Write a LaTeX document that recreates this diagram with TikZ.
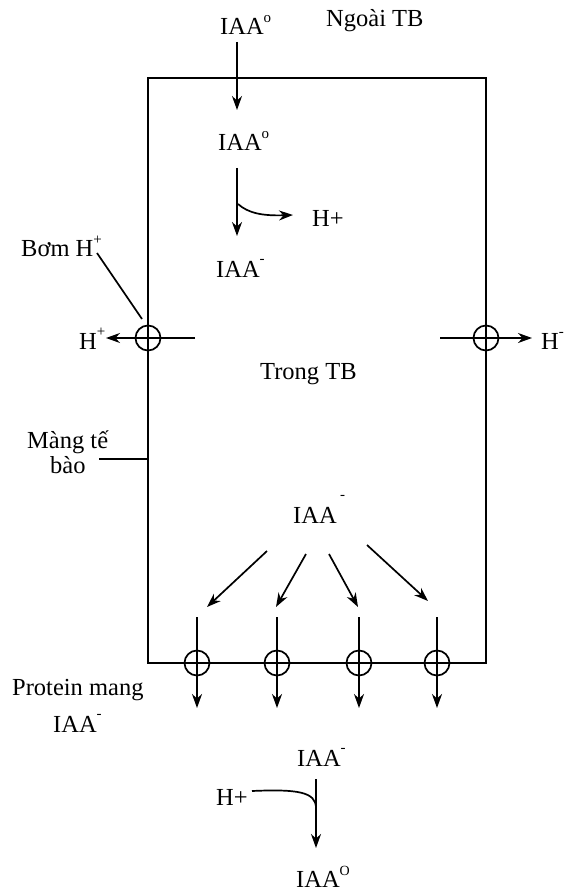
\documentclass[tikz,border=0pt]{standalone}
\usepackage{fontspec}
\setmainfont{Liberation Serif}
\usetikzlibrary{arrows.meta}
\newcommand\supx[2]{\raisebox{#1}{\fontsize{15}{15}\selectfont #2}}
\begin{document}
\begin{tikzpicture}[x=1pt,y=-1pt,
  lbl/.style={anchor=base west, inner sep=0pt, font=\fontsize{24.5}{28}\selectfont},
  sup/.style={anchor=base west, inner sep=0pt, font=\fontsize{15}{15}\selectfont},
  pore/.style={circle, draw, line width=1.7pt, minimum size=25pt, inner sep=0pt},
  ln/.style={line width=1.7pt},
  arr/.style={line width=1.7pt, -{Stealth[length=14pt,width=10pt,inset=4.5pt]}}]
\useasboundingbox (0,0) rectangle (565,893);

% cell membrane
\coordinate (nw) at (148,78);
\coordinate (se) at (486,663);
\draw[ln] (nw) rectangle (se);

% texts
\node[lbl] (ngoai) at (326,27) {Ngoài TB};
\node[lbl] (iaa1) at (220,35) {IAA\supx{12pt}{o}};
\node[lbl] (iaa2) at (218,151) {IAA\supx{12pt}{o}};
\node[lbl] (hp1) at (312,226) {H+};
\node[lbl] (iaa3) at (216,277) {IAA\supx{14pt}{-}};
\node[lbl] (bom) at (21,256) {Bơm H\supx{12pt}{+}};
\node[lbl] (hleft) at (79,349) {H\supx{13pt}{+}};
\node[lbl] (hright) at (541,349) {H\supx{13pt}{-}};
\node[lbl] (trong) at (260,379) {Trong TB};
\node[lbl] (mang1) at (27,448) {Màng tế};
\node[lbl] (mang2) at (50,473) {bào};
\node[lbl] (iaa4) at (293,523) {IAA};
\node[sup] (iaa4m) at (340,499) {-};
\node[lbl] (prot) at (12,695) {Protein mang};
\node[lbl] (prot2) at (53,732) {IAA\supx{14pt}{-}};
\node[lbl] (iaa5) at (297,766) {IAA\supx{14pt}{-}};
\node[lbl] (hp2) at (216,805) {H+};
\node[lbl] (iaa6) at (296,887) {IAA\raisebox{12pt}{\fontsize{14}{14}\selectfont O}};

% top inflow
\coordinate (a1s) at (237,42);
\coordinate (a1e) at (237,110);
\draw[arr] (a1s) -- (a1e);
\coordinate (a2s) at (237,168);
\coordinate (a2e) at (237,236);
\draw[arr] (a2s) -- (a2e);
\coordinate (c1s) at (238,204);
\coordinate (c1e) at (293,215);
\draw[arr] (c1s) .. controls (248,213) and (262,216) .. (c1e);

% side pumps
\node[pore] (pl) at (148,338) {};
\node[pore] (pr) at (486,338) {};
\coordinate (pls) at (195,338);
\coordinate (ple) at (106,338);
\draw[arr] (pls) -- (ple);
\coordinate (prs) at (440,338);
\coordinate (pre) at (532,338);
\draw[arr] (prs) -- (pre);
\coordinate (bomE) at (97,253);
\coordinate (bomT) at (142,319);
\draw[ln] (bomE) -- (bomT);
\coordinate (mangE) at (99,459);
\coordinate (mangT) at (147,459);
\draw[ln] (mangE) -- (mangT);

% fan arrows
\coordinate (f1s) at (267,551); \coordinate (f1e) at (207,607);
\coordinate (f2s) at (306,554); \coordinate (f2e) at (276,607);
\coordinate (f3s) at (329,554); \coordinate (f3e) at (358,607);
\coordinate (f4s) at (367,545); \coordinate (f4e) at (428,601);
\draw[arr] (f1s) -- (f1e);
\draw[arr] (f2s) -- (f2e);
\draw[arr] (f3s) -- (f3e);
\draw[arr] (f4s) -- (f4e);

% bottom carriers
\foreach \i/\x in {1/197,2/277,3/359,4/437}{
  \node[pore] (b\i) at (\x,663) {};
  \coordinate (bs\i) at (\x,617);
  \coordinate (be\i) at (\x,708);
  \draw[arr] (bs\i) -- (be\i);
}

% bottom reaction
\coordinate (d1s) at (316,779);
\coordinate (d1e) at (316,848);
\draw[arr] (d1s) -- (d1e);
\coordinate (c2s) at (252,791);
\coordinate (c2e) at (316,808);
\draw[ln] (c2s) .. controls (298,789) and (316,792) .. (c2e);
\end{tikzpicture}
\end{document}
